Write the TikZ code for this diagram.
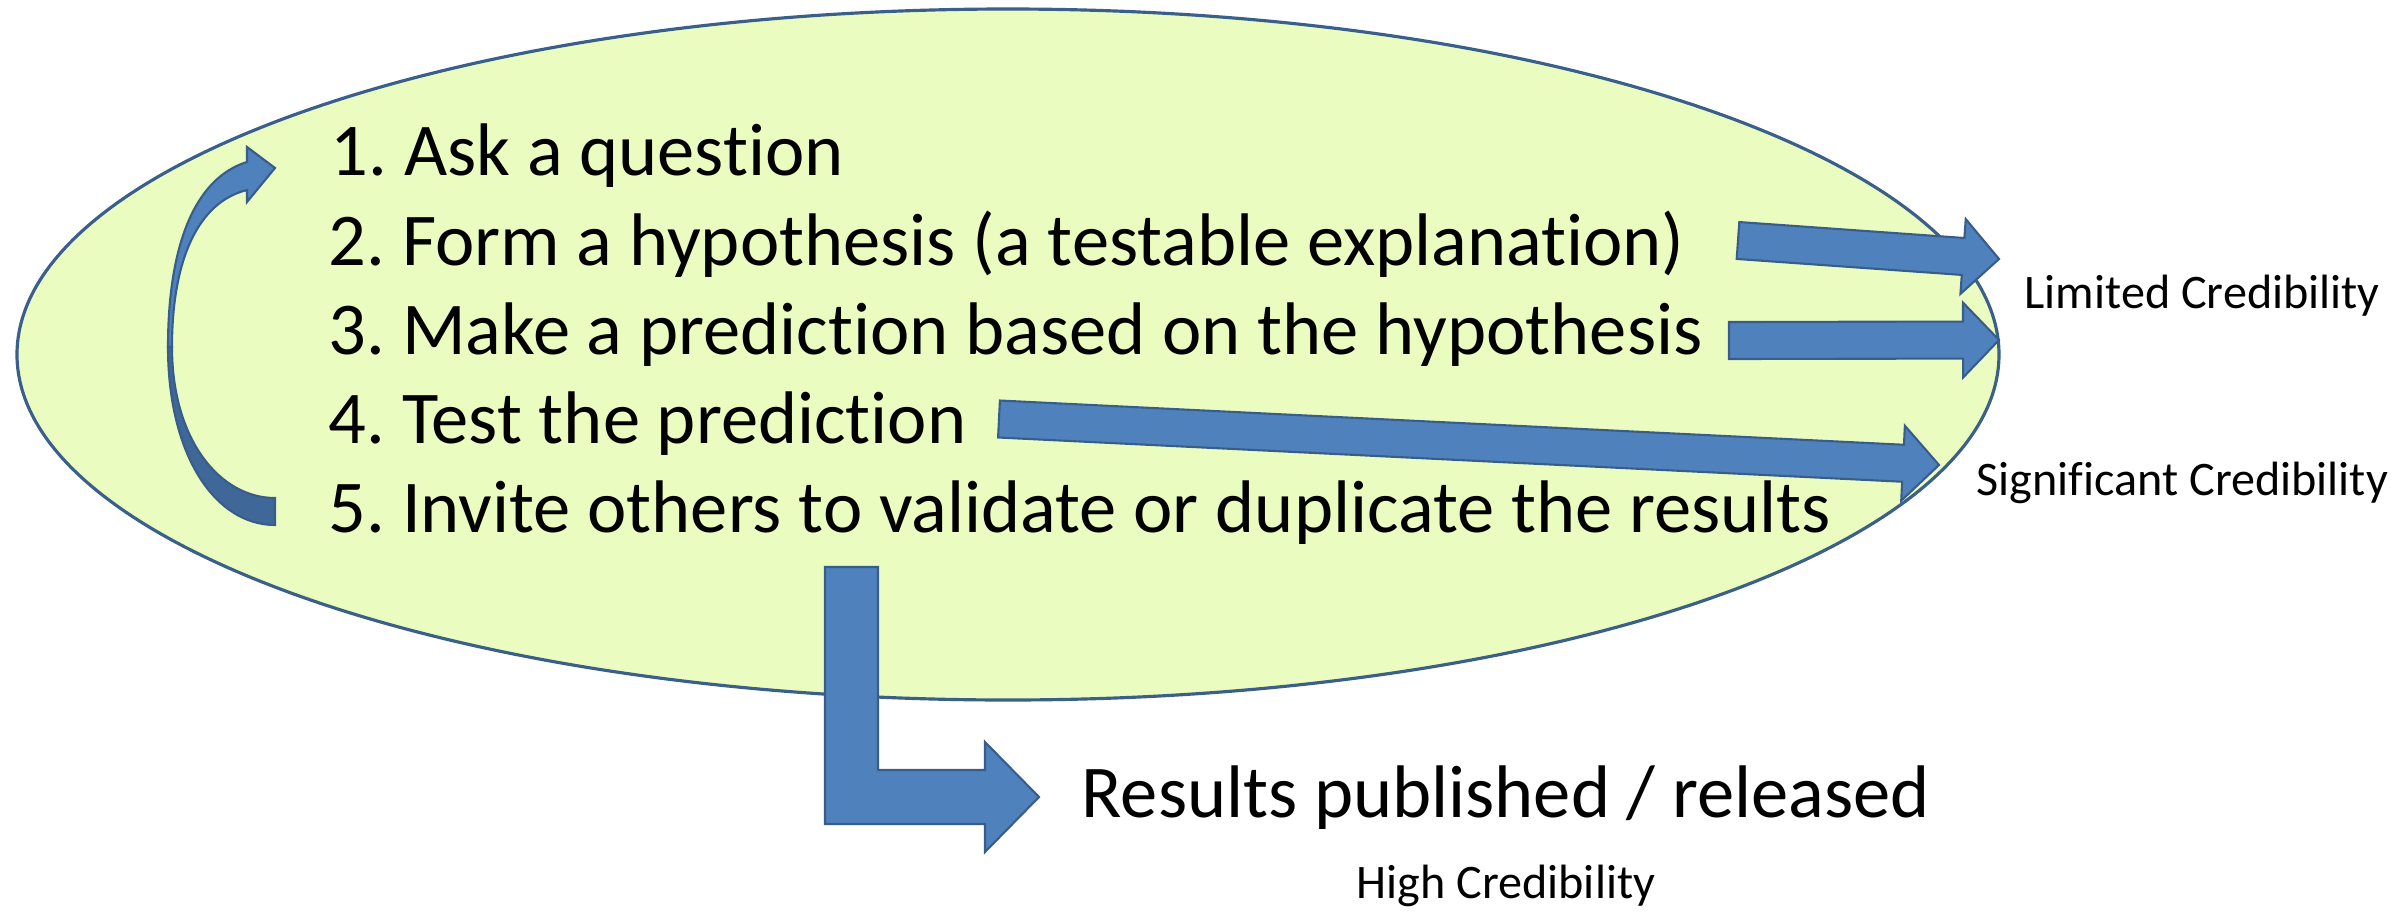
\documentclass[tikz,border=0pt]{standalone}
\usepackage{fontspec}
\setmainfont{Carlito}[Ligatures={NoCommon,NoContextual}]
\usepackage{xcolor}
\usetikzlibrary{calc}

\definecolor{ovalfill}{RGB}{235,252,192}
\definecolor{ovalline}{RGB}{58,95,139}
\definecolor{arrowfill}{RGB}{79,129,189}
\definecolor{arrowline}{RGB}{56,93,138}
\definecolor{arrowdark}{RGB}{63,103,151}

\tikzset{
  blockarrow/.style={fill=arrowfill,draw=arrowline,line width=0.6pt,line join=miter},
  steptext/.style={anchor=base west,inner sep=0pt,font=\fontsize{21.2}{25}\selectfont},
  credtext/.style={anchor=base west,inner sep=0pt,font=\fontsize{13.7}{16}\selectfont},
}

% block arrow from tail point #1 to tip point #2
\newcommand{\blockarrow}[2]{%
  \draw[blockarrow] ($(#1)!0.185cm!90:(#2)$)
    -- ($(#2)!0.36cm!(#1)!0.185cm!90:(#2)$)
    -- ($(#2)!0.36cm!(#1)!0.375cm!90:(#2)$)
    -- (#2)
    -- ($(#2)!0.36cm!(#1)!0.375cm!-90:(#2)$)
    -- ($(#2)!0.36cm!(#1)!0.185cm!-90:(#2)$)
    -- ($(#1)!0.185cm!-90:(#2)$) -- cycle;}

\frenchspacing

\begin{document}
\begin{tikzpicture}
        \useasboundingbox (0,0) rectangle (23.95,-9.12);
        \fill[white] (0,0) rectangle (23.95,-9.12);
        \draw[fill=ovalfill,draw=ovalline,line width=0.9pt] (10.08,-3.545) ellipse (9.91 and 3.455);
        % loop back arrow
        \draw[blockarrow,fill=arrowdark] (1.68,-3.47) .. controls (1.68,-4.55) and (2.15,-5.25) .. (2.75,-5.25)
            -- (2.75,-4.98) .. controls (2.20,-4.98) and (1.72,-4.40) .. (1.72,-3.47) -- cycle;
        \draw[blockarrow] (2.47,-1.90) -- (2.47,-2.02) -- (2.75,-1.68) -- (2.47,-1.47) -- (2.47,-1.62)
            .. controls (1.95,-1.78) and (1.68,-2.45) .. (1.68,-3.47) -- (1.72,-3.47)
            .. controls (1.72,-2.60) and (1.98,-2.02) .. cycle;
        \node[steptext] (ask) at (3.30,-1.75) {1. Ask a question};
        \node[steptext] (form) at (3.28,-2.65) {2. Form a hypothesis (a testable explanation)};
        \node[steptext] (make) at (3.28,-3.54) {3. Make a prediction based on the hypothesis};
        \node[steptext] (test) at (3.28,-4.43) {4. Test the prediction};
        \node[steptext] (invite) at (3.28,-5.32) {5. Invite others to validate or duplicate the results};
        \node[credtext] (limited) at (20.24,-3.08) {Limited Credibility};
        \node[credtext] (signif) at (19.76,-4.95) {Significant Credibility};
        \node[steptext] (results) at (10.81,-8.17) {Results published / released};
        \node[credtext] (high) at (13.56,-8.98) {High Credibility};
        % arrow ends
        \coordinate (formtail) at (17.38,-2.405);
        \coordinate (formtip) at (19.99,-2.59);
        \coordinate (maketail) at (17.29,-3.405);
        \coordinate (maketip) at (19.99,-3.40);
        \coordinate (testtail) at (9.99,-4.19);
        \coordinate (testtip) at (19.39,-4.65);
        \coordinate (pubtop) at (8.515,-5.67);
        \coordinate (pubtip) at (10.39,-7.97);
        \blockarrow{formtail}{formtip}
        \blockarrow{maketail}{maketip}
        \blockarrow{testtail}{testtip}
        \draw[blockarrow] ($(pubtop)+(-0.265,0)$) -- ($(pubtop)+(0.265,0)$) |- ($(pubtip)+(-0.54,0.27)$)
            -- ++(0,0.28) -- (pubtip) -- ++(-0.54,-0.55) -- ++(0,0.28) -| ($(pubtop)+(-0.265,0)$) -- cycle;
\end{tikzpicture}
\end{document}
